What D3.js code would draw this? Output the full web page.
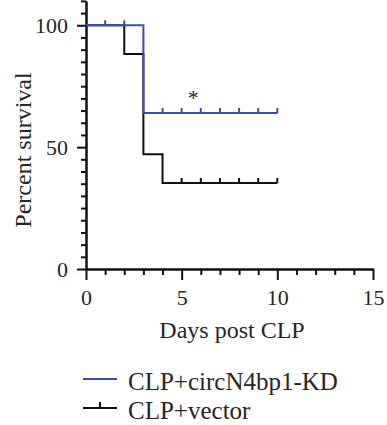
<!DOCTYPE html>
<html>
<head>
<meta charset="utf-8">
<script src="https://cdn.jsdelivr.net/npm/d3@7"></script>
<style>
  body { margin: 0; background: #fff; }
  svg text { font-family: "Liberation Serif", "Times New Roman", serif; fill: #262626; }
</style>
</head>
<body>
<div id="chart"></div>
<script>
// Kaplan-Meier steps
var kdDays = [0, 3, 10];
var kdSurvival = [100, 64, 64];
var kdCensored = [1, 2, 4, 5, 6, 7, 8, 9, 10];

var vectorDays = [0, 2, 3, 4, 10];
var vectorSurvival = [100, 88.2, 47.1, 35.3, 35.3];
var vectorCensored = [5, 6, 7, 8, 9, 10];

var xMajorTicks = [0, 5, 10, 15];
var yMajorTicks = [0, 50, 100];

var seriesNames = ["CLP+circN4bp1-KD", "CLP+vector"];
var seriesColors = ["#3b4fae", "#111111"];

var width = 387, height = 425;

var svg = d3.select("#chart").append("svg")
  .attr("width", width)
  .attr("height", height);

var x = d3.scaleLinear().domain([0, 15]).range([86, 373]);
var y = d3.scaleLinear().domain([0, 110]).range([269, 0.9]);

// minor ticks
var xMinor = d3.range(0, 16, 1).filter(function(d) { return xMajorTicks.indexOf(d) < 0; });
var yMinor = d3.range(0, 111, 5).filter(function(d) { return yMajorTicks.indexOf(d) < 0; });

svg.append("g")
  .attr("transform", "translate(0,269)")
  .call(d3.axisBottom(x).tickValues(xMinor).tickSize(6).tickSizeOuter(0).tickFormat(""))
  .call(styleAxis);

svg.append("g")
  .attr("transform", "translate(0,269)")
  .call(d3.axisBottom(x).tickValues(xMajorTicks).tickSize(11).tickSizeOuter(0).tickPadding(9))
  .call(styleAxis);

svg.append("g")
  .attr("transform", "translate(86,0)")
  .call(d3.axisLeft(y).tickValues(yMinor).tickSize(5).tickSizeOuter(0).tickFormat(""))
  .call(styleAxis);

svg.append("g")
  .attr("transform", "translate(86,0)")
  .call(d3.axisLeft(y).tickValues(yMajorTicks).tickSize(9).tickSizeOuter(0).tickPadding(9))
  .call(styleAxis);

function styleAxis(g) {
  g.attr("font-family", "Liberation Serif").attr("font-size", 22);
  g.select(".domain").attr("stroke", "#111").attr("stroke-width", 2);
  g.selectAll(".tick line").attr("stroke", "#111").attr("stroke-width", 2);
  g.selectAll(".tick text").attr("fill", "#262626");
}

// axis titles
svg.append("text")
  .attr("x", 232)
  .attr("y", 338)
  .attr("text-anchor", "middle")
  .attr("font-size", 24)
  .text("Days post CLP");

svg.append("text")
  .attr("transform", "translate(31,150) rotate(-90)")
  .attr("text-anchor", "middle")
  .attr("font-size", 24)
  .text("Percent survival");

// curves
var line = d3.line()
  .x(function(d) { return x(d[0]); })
  .y(function(d) { return y(d[1]); })
  .curve(d3.curveStepAfter);

function survivalAt(days, surv, t) {
  var v = surv[0];
  for (var i = 0; i < days.length; i++) { if (days[i] <= t) v = surv[i]; }
  return v;
}

var series = [
  { days: vectorDays, surv: vectorSurvival, cens: vectorCensored, color: seriesColors[1] },
  { days: kdDays, surv: kdSurvival, cens: kdCensored, color: seriesColors[0] }
];

series.forEach(function(s) {
  svg.append("path")
    .datum(d3.zip(s.days, s.surv))
    .attr("d", line)
    .attr("fill", "none")
    .attr("stroke", s.color)
    .attr("stroke-width", 2);

  svg.selectAll(null)
    .data(s.cens)
    .enter().append("line")
    .attr("x1", function(d) { return x(d); })
    .attr("x2", function(d) { return x(d); })
    .attr("y1", function(d) { return y(survivalAt(s.days, s.surv, d)); })
    .attr("y2", function(d) { return y(survivalAt(s.days, s.surv, d)) - 5; })
    .attr("stroke", s.color)
    .attr("stroke-width", 2);
});

// significance mark
svg.append("text")
  .attr("x", x(5.6))
  .attr("y", y(64) - 8)
  .attr("text-anchor", "middle")
  .attr("font-size", 22)
  .text("*");

// legend
var legend = svg.append("g");
var rows = [379, 408];
seriesNames.forEach(function(name, i) {
  legend.append("line")
    .attr("x1", 83).attr("x2", 117)
    .attr("y1", rows[i]).attr("y2", rows[i])
    .attr("stroke", seriesColors[i])
    .attr("stroke-width", 2);
  if (i === 1) {
    legend.append("line")
      .attr("x1", 100).attr("x2", 100)
      .attr("y1", rows[i]).attr("y2", rows[i] - 6)
      .attr("stroke", seriesColors[i])
      .attr("stroke-width", 2);
  }
  legend.append("text")
    .attr("x", 128)
    .attr("y", rows[i] + 11)
    .attr("font-size", 25)
    .text(name);
});
</script>
</body>
</html>
